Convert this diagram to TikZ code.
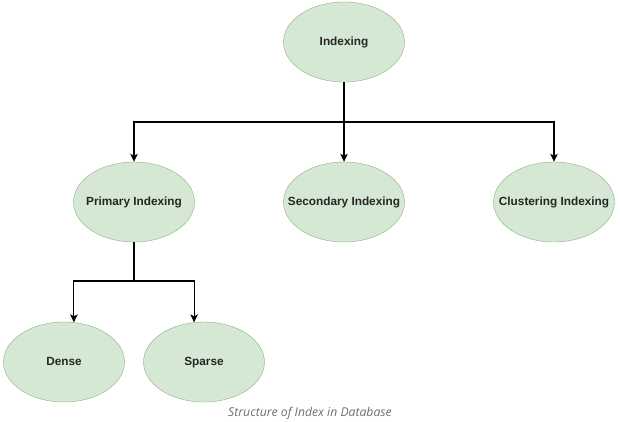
\documentclass[tikz,border=0pt]{standalone}
\usepackage{fontspec}
\setsansfont{Liberation Sans}
\newfontfamily\captionfont{Open Sans}
\usepackage{tikz}
\usetikzlibrary{shapes.geometric, arrows.meta}

\definecolor{blobfill}{HTML}{D5E8D4}
\definecolor{blobline}{HTML}{8FB07F}
\definecolor{captiongray}{HTML}{6E6E6E}

\begin{document}
\begin{tikzpicture}[
        x=1pt, y=-1pt,
        blob/.style={
            % The shape:
            ellipse,
            % The size:
            minimum width=121pt,
            minimum height=80pt,
            % The border
            draw=blobline,
            % The filling
            fill=blobfill,
            % Font
            label={[font=\sffamily\bfseries\fontsize{11.8}{14}\selectfont, text=black!85, text height=8.5pt, text depth=2.5pt]center:#1}
        },
        conn/.style={
            line width=1.2pt,
            -{Stealth[length=8pt,width=7.5pt,inset=2pt]}
        }]

        \useasboundingbox (0,0) rectangle (620,421);

        \node [blob=Indexing] (idx) at (344,42) {};

        \foreach \x/\name/\xtext in {134/pri/Primary Indexing, 344/sec/Secondary Indexing, 554/clu/Clustering Indexing}
        {
            \node [blob=\xtext] (\name) at (\x,202) {};
        }

        \node [blob=Dense]  (dns) at (64,362) {};
        \node [blob=Sparse] (sps) at (204,362) {};

        \coordinate (bus) at (344,122);
        \coordinate (subbus) at (134,281);

        \draw [conn] (idx.south) -- (bus) -| (pri.north);
        \draw [conn] (bus) -- (sec.north);
        \draw [conn] (bus) -| (clu.north);

        \draw [conn] (pri.south) -- (subbus) -| (dns.76);
        \draw [conn] (subbus) -| (sps.104);

        \node [font=\captionfont\itshape\fontsize{12.2}{14}\selectfont, text=captiongray] (cap) at (310,413) {Structure of Index in Database};

    \end{tikzpicture}
\end{document}
